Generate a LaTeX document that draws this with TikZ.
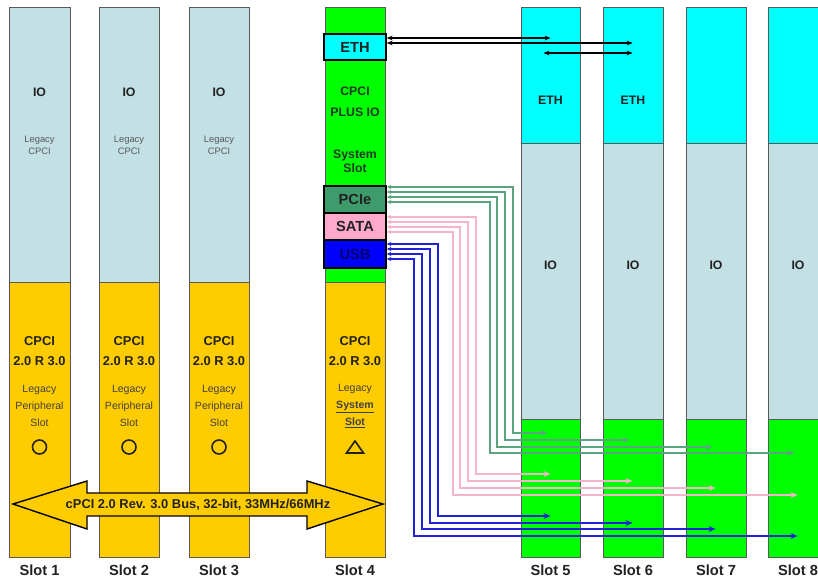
\documentclass[tikz,border=0pt]{standalone}
\usepackage{fontspec}
\setmainfont{Liberation Sans}
\usetikzlibrary{fit,calc,arrows.meta}
\definecolor{yel}{HTML}{FFCC00}
\definecolor{lb}{HTML}{C3E0E4}
\definecolor{gr}{HTML}{00FF00}
\definecolor{cy}{HTML}{00FFFF}
\definecolor{pcieC}{HTML}{3E9C6C}
\definecolor{sataC}{HTML}{FFAACC}
\definecolor{usbC}{HTML}{0000FF}
\definecolor{lineG}{HTML}{5AA57E}
\definecolor{lineP}{HTML}{F4B4CA}
\definecolor{lineB}{HTML}{2222D8}
\definecolor{txt}{HTML}{222222}
\definecolor{dgr}{HTML}{1F3A1F}
\begin{document}
\begin{tikzpicture}[x=0.03cm,y=-0.03cm,
 part/.style={draw=gray!70!black, line width=0.8pt, inner sep=0pt},
 boxp/.style={draw=black, line width=1.2pt, inner sep=0pt},
 boxt/.style={font=\bfseries\fontsize{12.5}{14}\selectfont, text=txt},
 big/.style={font=\bfseries\fontsize{11}{17}\selectfont, text=txt, align=center},
 io/.style={font=\bfseries\fontsize{10.5}{12}\selectfont, text=txt},
 small/.style={font=\fontsize{8}{10.2}\selectfont, text=black!65, align=center},
 leg/.style={font=\fontsize{9}{14.5}\selectfont, text=black!75, align=center},
 lbl/.style={font=\bfseries\fontsize{12.5}{14}\selectfont, text=txt},
 gtxt/.style={font=\bfseries\fontsize{10.5}{18}\selectfont, text=dgr, align=center},
 conn/.style={line width=1pt, {Stealth[length=4pt,width=3.5pt]}-{Stealth[length=6pt,width=5pt]}},
 ethc/.style={line width=0.9pt, black, {Stealth[length=5pt,width=4pt]}-{Stealth[length=5pt,width=4pt]}},
]
\useasboundingbox (0,0) rectangle (818,582);
\fill[white] (0,0) rectangle (818,582);
\begin{scope}
\clip (0,0) rectangle (818,582);
% legacy slots 1-3
\foreach \n/\a/\b in {1/9/70, 2/99/159, 3/189/249}{
  \node[part, fill=lb, fit={(\a,7)(\b,282)}] (s\n top) {};
  \node[part, fill=yel, fit={(\a,282)(\b,557)}] (s\n bot) {};
  \node[io] (s\n io) at ({(\a+\b)/2},92) {IO};
  \node[small] (s\n leg) at ({(\a+\b)/2},145) {Legacy\\CPCI};
  \node[big] (s\n cp) at ({(\a+\b)/2},351) {CPCI\\2.0 R 3.0};
  \node[leg] (s\n per) at ({(\a+\b)/2},406) {Legacy\\Peripheral\\Slot};
  \draw[line width=1.4pt, txt] ({(\a+\b)/2},447) circle[radius=0.21cm];
  \node[lbl] (s\n lbl) at ({(\a+\b)/2},570) {Slot \n};
}
% slot 4
\node[part, fill=gr, fit={(325,7)(385,282)}] (s4top) {};
\node[part, fill=yel, fit={(325,282)(385,557)}] (s4bot) {};
\node[boxp, fill=cy, fit={(324,34)(386,60)}] (eth) {};
\node[boxt] (ethT) at (eth) {ETH};
\node[gtxt] (s4a) at (355,102) {CPCI\\PLUS IO};
\node[gtxt, font=\bfseries\fontsize{10.5}{12}\selectfont] (s4b) at (355,161) {System\\Slot};
\node[boxp, fill=pcieC, fit={(324,186)(386,213)}] (pcie) {};
\node[boxt] (pcieT) at (pcie) {PCIe};
\node[boxp, fill=sataC, fit={(324,213)(386,240)}] (sata) {};
\node[boxt] (sataT) at (sata) {SATA};
\node[boxp, fill=usbC, fit={(324,240)(386,268)}] (usb) {};
\node[boxt, text=black!60!blue] (usbT) at (usb) {USB};
\node[big] (s4cp) at (355,351) {CPCI\\2.0 R 3.0};
\node[leg] (s4leg) at (355,389) {Legacy};
\node[leg, font=\bfseries\fontsize{9}{14.5}\selectfont] (s4sys) at (355,414.5) {\underline{System}\\\underline{Slot}};
\draw[line width=1.4pt, txt, line join=miter] (346.5,453) -- (363.5,453) -- (355,441) -- cycle;
\node[lbl] (s4lbl) at (355,570) {Slot 4};
% slots 5-8
\foreach \n/\a/\b in {5/521/580, 6/603/663, 7/686/746, 8/768/828}{
  \node[part, fill=cy, fit={(\a,7)(\b,143)}] (s\n eth) {};
  \node[part, fill=lb, fit={(\a,143)(\b,419)}] (s\n io) {};
  \node[part, fill=gr, fit={(\a,419)(\b,557)}] (s\n bot) {};
  \node[io] (s\n ioT) at ({(\a+\b)/2},265) {IO};
  \node[lbl] (s\n lbl) at ({(\a+\b)/2},570) {Slot \n};
}
\node[io] (s5ethT) at (550.5,100) {ETH};
\node[io] (s6ethT) at (633,100) {ETH};
% bus arrow
\draw[fill=yel, line width=1.2pt, line join=miter] (13,504) -- (87,481) -- (87,493) -- (307,493) -- (307,481) -- (383,504) -- (307,529) -- (307,516) -- (87,516) -- (87,529) -- cycle;
\node[font=\bfseries\fontsize{11}{13}\selectfont, text=txt] (bus) at (198,505) {cPCI 2.0 Rev. 3.0 Bus, 32-bit, 33MHz/66MHz};
% ETH connections
\draw[ethc] (eth.east |- 0,38) -- ($(s5eth.west |- 0,38)+(30,0)$);
\draw[ethc] (eth.east |- 0,43) -- ($(s6eth.west |- 0,43)+(30,0)$);
\coordinate (e3a) at ($(s5eth.west |- 0,53)+(23,0)$);
\draw[ethc] (e3a) -- ($(s6eth.west |- 0,53)+(30,0)$);
% PCIe
\foreach \ys/\xv/\ye/\s in {187/513/433/5, 192/505/440/6, 197/497/447/7, 202/490/453/8}{
  \draw[conn, lineG] (pcie.east |- 0,\ys) -| (\xv,\ye) -- ($(s\s bot.west |- 0,\ye)+(27,0)$);
}
% SATA
\foreach \ys/\xv/\ye/\s in {217/476/474/5, 222/468/481/6, 227/460/488/7, 232/453/495/8}{
  \draw[conn, lineP] (sata.east |- 0,\ys) -| (\xv,\ye) -- ($(s\s bot.west |- 0,\ye)+(30,0)$);
}
% USB
\foreach \ys/\xv/\ye/\s in {244/438/516/5, 249/430/523/6, 254/422/529/7, 259/414/536/8}{
  \draw[conn, lineB] (usb.east |- 0,\ys) -| (\xv,\ye) -- ($(s\s bot.west |- 0,\ye)+(30,0)$);
}
\end{scope}
\end{tikzpicture}
\end{document}
